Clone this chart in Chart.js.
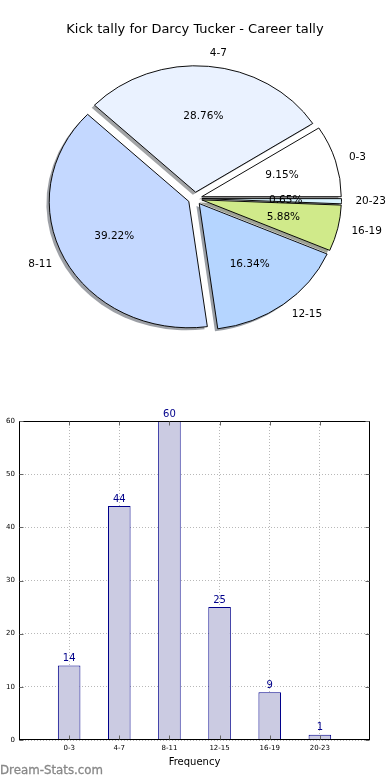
<!DOCTYPE html>
<html><head><meta charset="utf-8">
<script src="https://cdn.jsdelivr.net/npm/chart.js@4/dist/chart.umd.min.js"></script>
<style>
body{margin:0;background:#fff;width:390px;height:780px;position:relative;overflow:hidden;font-family:'DejaVu Sans',sans-serif}
#pie{position:absolute;left:0;top:0}
#bar{position:absolute;left:0;top:400px}
#wm{position:absolute;left:0;top:763px;font:11.8px 'DejaVu Sans',sans-serif;color:#888;white-space:nowrap;-webkit-text-stroke:0.3px #888}
</style></head><body>
<canvas id="pie" width="390" height="400"></canvas>
<canvas id="bar" width="390" height="380"></canvas>
<div id="wm">Dream-Stats.com</div>
<script>
const chartTitle = 'Kick tally for Darcy Tucker - Career tally';
const categories = ['0-3','4-7','8-11','12-15','16-19','20-23'];
const kicks = [14,44,60,25,9,1];
const sliceColors = ['#ffffff','#eaf2ff','#c4d8ff','#b5d5ff','#d0ea8a','#d8f4ff'];
const yTicks = [0,10,20,30,40,50,60];
const xAxisTitle = 'Frequency';

const FONT = "'DejaVu Sans', sans-serif";
const XS = 1.104;   // horizontal stretch of the (non-equal-aspect) pie
const EXP = 0.05;   // explode fraction
const total = kicks.reduce((a,b)=>a+b,0);

// pie drawn clockwise from east, so reverse order to mimic counter-clockwise layout
const pieLabels = categories.slice().reverse();
const pieValues = kicks.slice().reverse();
const pieColors = sliceColors.slice().reverse();

function shadowOf(hex){
  const r=parseInt(hex.slice(1,3),16),g=parseInt(hex.slice(3,5),16),b=parseInt(hex.slice(5,7),16);
  return 'rgba('+Math.round(r*0.3)+','+Math.round(g*0.3)+','+Math.round(b*0.3)+',0.5)';
}

const pieFx = {
  id:'pieFx',
  beforeDatasetsDraw(chart){
    const ctx = chart.ctx;
    const arcs = chart.getDatasetMeta(0).data;
    const cx = arcs[0].x, cy = arcs[0].y;
    ctx.save();
    ctx.translate(cx,cy); ctx.scale(XS,1); ctx.translate(-cx,-cy);
    arcs.forEach((a,i)=>{
      const mid=(a.startAngle+a.endAngle)/2, R=a.outerRadius, d=EXP*R;
      const ox=cx+Math.cos(mid)*d-0.02*R, oy=cy+Math.sin(mid)*d+0.02*R;
      ctx.beginPath(); ctx.moveTo(ox,oy); ctx.arc(ox,oy,R,a.startAngle,a.endAngle); ctx.closePath();
      ctx.fillStyle=shadowOf(pieColors[i]); ctx.fill();
    });
    arcs.forEach(a=>{
      if(!a._wrapped){
        const orig=a.draw;
        a.draw=function(c,area){
          const mid=(this.startAngle+this.endAngle)/2, d=EXP*this.outerRadius;
          c.save(); c.translate(Math.cos(mid)*d, Math.sin(mid)*d);
          orig.call(this,c,area); c.restore();
        };
        a._wrapped=true;
      }
    });
  },
  afterDatasetsDraw(chart){
    const ctx = chart.ctx;
    ctx.restore();
    const arcs = chart.getDatasetMeta(0).data;
    const cx = arcs[0].x, cy = arcs[0].y;
    ctx.save();
    ctx.fillStyle='#000';
    ctx.font='10.5px '+FONT;
    arcs.forEach((a,i)=>{
      const mid=(a.startAngle+a.endAngle)/2, R=a.outerRadius, d=EXP*R;
      const c=Math.cos(mid), s=Math.sin(mid);
      const ex=cx+XS*c*d, ey=cy+s*d;
      ctx.textAlign='center'; ctx.textBaseline='middle';
      ctx.fillText((pieValues[i]/total*100).toFixed(2)+'%', ex+XS*0.6*R*c, ey+0.6*R*s);
      ctx.textAlign = c>0 ? 'left' : 'right';
      ctx.fillText(pieLabels[i], ex+XS*1.1*R*c, ey+1.1*R*s);
    });
    ctx.font='13px '+FONT;
    ctx.textAlign='center'; ctx.textBaseline='middle';
    ctx.fillText(chartTitle, chart.width/2, 30);
    ctx.restore();
  }
};

new Chart(document.getElementById('pie'), {
  type:'pie',
  data:{labels:pieLabels, datasets:[{data:pieValues, backgroundColor:pieColors, borderColor:'#000', borderWidth:0.9, clip:false}]},
  options:{
    responsive:false, animation:false, rotation:90, radius:126.4,
    layout:{padding:{top:0,bottom:3,left:0,right:0}},
    plugins:{legend:{display:false}, tooltip:{enabled:false}}
  },
  plugins:[pieFx]
});

const barFx = {
  id:'barFx',
  afterDraw(chart){
    const ctx=chart.ctx, a=chart.chartArea;
    const xs=chart.scales.x, ys=chart.scales.y;
    ctx.save();
    ctx.strokeStyle='#000'; ctx.lineWidth=1;
    const L=Math.round(a.left)+0.5, T=Math.round(a.top)+0.5, Rr=Math.round(a.right)-0.5, B=Math.round(a.bottom)-0.5;
    ctx.strokeRect(L,T,Rr-L,B-T);
    ctx.strokeStyle='#666';
    ctx.beginPath();
    categories.forEach((c,i)=>{
      const px=Math.round(xs.getPixelForValue(i))+0.5;
      ctx.moveTo(px,B); ctx.lineTo(px,B-4);
      ctx.moveTo(px,T); ctx.lineTo(px,T+4);
    });
    yTicks.forEach(v=>{
      const py=Math.round(ys.getPixelForValue(v))+0.5;
      ctx.moveTo(L,py); ctx.lineTo(L+4,py);
      ctx.moveTo(Rr,py); ctx.lineTo(Rr-4,py);
    });
    ctx.stroke();
    const bars=chart.getDatasetMeta(0).data;
    ctx.fillStyle='#00008b'; ctx.font='10px '+FONT;
    ctx.textAlign='center'; ctx.textBaseline='bottom';
    bars.forEach((b,i)=>{ ctx.fillText(String(kicks[i]), b.x, b.y-2); });
    ctx.restore();
  }
};

new Chart(document.getElementById('bar'), {
  type:'bar',
  data:{datasets:[{
    data:categories.map((c,i)=>({x:i,y:kicks[i]})),
    backgroundColor:'#cbcbe2', borderColor:'#00008b', borderWidth:1,
    barPercentage:0.45, categoryPercentage:1
  }]},
  options:{
    responsive:false, animation:false,
    layout:{padding:{left:0,right:20,top:21,bottom:0}},
    plugins:{legend:{display:false}, tooltip:{enabled:false}},
    scales:{
      x:{
        type:'linear', min:-1, max:6, offset:false,
        afterBuildTicks(s){ s.ticks = categories.map((c,i)=>({value:i})); },
        afterFit(s){ s.height=40; },
        ticks:{callback:(v)=>categories[v], autoSkip:false, maxRotation:0, padding:4, color:'#000', font:{size:7,family:FONT}},
        grid:{color:'#b8b8b8', lineWidth:1, drawTicks:false, offset:false},
        border:{display:false, dash:[1,2]},
        title:{display:true, text:xAxisTitle, color:'#000', font:{size:10,family:FONT}, padding:{top:0,bottom:12}}
      },
      y:{
        min:0, max:60,
        afterBuildTicks(s){ s.ticks = yTicks.map(v=>({value:v})); },
        afterFit(s){ s.width=19; },
        ticks:{padding:4, color:'#000', font:{size:7,family:FONT}},
        grid:{color:'#b8b8b8', lineWidth:1, drawTicks:false},
        border:{display:false, dash:[1,2]}
      }
    }
  },
  plugins:[barFx]
});
</script>
</body></html>
